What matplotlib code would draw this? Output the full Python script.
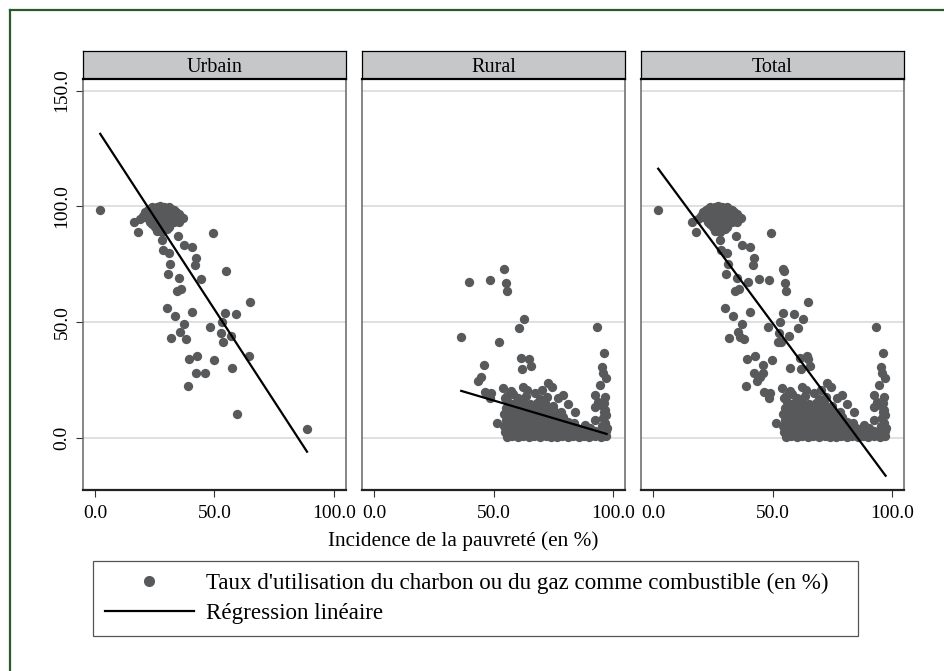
import numpy as np
import matplotlib.pyplot as plt
from matplotlib.lines import Line2D

plt.rcParams['font.family'] = ['Liberation Serif', 'DejaVu Serif']

# ---- data ----
panels = ['Urbain', 'Rural', 'Total']

urbain_x = [2.2, 16.5, 17.9, 49.4, 34.7, 28.1, 37.2, 40.7, 28.4, 30.9, 42.1, 41.7, 31.5, 55.0,
            30.5, 35.0, 44.2, 36.1, 34.3, 65.0, 30.3, 40.7, 54.4, 59.0, 33.4, 53.3, 37.2, 48.3,
            35.7, 52.7, 57.1, 32.0, 37.9, 53.5, 42.8, 39.3, 64.6, 49.6, 57.3, 42.2, 46.0, 39.0,
            59.3, 88.7,
            # dense cluster near 100 %
            20, 21, 22, 23, 24, 25, 26, 27, 28, 29, 30, 31, 32, 33, 34, 35, 36, 37,
            22, 24, 26, 28, 30, 32, 34, 23, 25, 27, 29, 31, 33, 25, 27, 29, 31, 26, 28, 24,
            19, 21, 35, 30]
urbain_y = [98.4, 93.3, 88.8, 88.6, 87.2, 85.6, 83.3, 82.3, 81.1, 80.0, 77.5, 74.6, 75.1, 72.0,
            70.7, 68.9, 68.7, 64.1, 63.4, 58.6, 56.2, 54.2, 53.7, 53.4, 52.7, 49.9, 49.0, 48.0,
            45.5, 45.1, 44.0, 43.2, 42.5, 41.5, 35.3, 33.9, 35.2, 33.7, 30.3, 28.1, 28.0, 22.5,
            10.1, 3.9,
            96, 97.5, 98.5, 99, 99.5, 98, 99.5, 100, 99, 99.7, 98.5, 99.5, 99, 98.5, 97.5, 96.5, 95.5, 95,
            95, 96, 96.5, 96.5, 96, 96, 95, 93, 94, 93.5, 94, 93.5, 93, 91, 91.5, 91.5, 91, 89.5, 89, 92.5,
            94.5, 95.5, 93, 90]

rural_x = [54.4, 39.9, 48.4, 55.4, 55.8, 62.8, 60.6, 93.4, 36.5, 52.2, 96.2, 61.7, 64.8, 65.6,
           45.9, 61.9, 95.5, 95.9, 44.6, 43.5, 96.9, 72.9, 74.5, 94.5, 54.0, 62.4, 46.6, 49.1,
           58.2, 67.3, 79.1, 77.0, 92.4, 48.4, 54.7, 81.2, 84.0, 88.2, 51.6, 92.4, 96.6, 92.4,
           96.6, 96.6, 93.8,
           55.5, 57.8, 60.1, 62.4, 64.9, 67.0, 69.3, 71.8, 74.0, 76.4, 78.7, 81.0, 83.2, 85.6,
           87.9, 90.1, 92.5, 94.8, 96.9,
           54.8, 57.1, 59.5, 61.8, 64.2, 66.5, 68.9, 71.2, 73.6, 75.9, 78.3, 80.6, 83.0, 85.3,
           87.7, 90.0, 92.4, 94.7, 97.0,
           54.3, 56.9, 59.4, 62.0, 64.5, 67.1, 69.6, 72.2, 74.8, 77.3, 79.9, 82.4, 85.0, 90.5,
           95.5, 97.3,
           55.1, 57.7, 60.3, 62.9, 65.5, 68.1, 70.7, 73.3, 75.9, 78.5, 81.1, 83.6, 95.9, 97.1,
           54.6, 57.3, 60.0, 62.7, 65.4, 68.1, 70.8, 73.5, 76.2, 79.0, 96.4,
           55.3, 58.1, 61.0, 63.9, 66.8, 69.7, 72.6, 75.4, 78.3, 94.9,
           56.2, 59.1, 62.3, 65.1, 68.4, 71.5, 74.9, 96.3,
           55.8, 60.4, 63.7, 69.6, 72.2,
           57.2, 64.1, 70.3]
rural_y = [72.9, 67.2, 68.3, 66.7, 63.4, 51.3, 47.4, 48.0, 43.4, 41.2, 36.7, 34.3, 33.9, 31.1,
           31.2, 29.5, 30.7, 27.8, 26.1, 24.5, 25.7, 23.5, 22.0, 22.7, 21.3, 22.0, 19.6, 19.5,
           18.9, 19.1, 18.5, 17.0, 18.5, 17.0, 17.0, 14.6, 11.2, 5.5, 6.5, 13.4, 12.0, 7.6,
           6.3, 17.8, 15.6,
           0.5, 0.7, 0.4, 0.8, 0.5, 0.6, 0.4, 0.7, 0.5, 0.3, 0.6, 0.5, 0.8, 0.4,
           0.6, 0.5, 0.7, 0.4, 0.6,
           2.6, 2.2, 2.8, 2.4, 3.0, 2.3, 2.7, 2.1, 2.9, 2.4, 2.6, 2.2, 2.8, 2.3,
           2.5, 2.1, 2.7, 2.4, 2.9,
           5.2, 4.8, 5.5, 4.6, 5.3, 4.9, 5.6, 4.7, 5.1, 4.5, 5.0, 4.6, 4.3, 4.4,
           4.9, 4.2,
           7.8, 7.2, 8.0, 7.4, 7.9, 7.3, 7.6, 7.1, 7.4, 6.9, 6.8, 6.5, 8.4, 9.8,
           10.3, 9.8, 10.6, 9.9, 10.4, 9.6, 10.1, 9.4, 9.2, 8.9, 10.9,
           12.8, 12.2, 13.0, 12.4, 12.1, 12.6, 11.8, 11.5, 11.2, 14.2,
           15.3, 14.8, 15.6, 14.7, 14.9, 15.2, 13.9, 15.1,
           17.9, 17.3, 18.1, 16.8, 17.4,
           20.1, 20.6, 20.8]

# Total = urban + rural districts
total_x = urbain_x + rural_x
total_y = urbain_y + rural_y

# fitted lines (intercept, slope)
reg_intercept = [134.8, 31.4, 119.3]
reg_slope = [-1.588, -0.306, -1.395]

xticks = [0, 50, 100]
yticks = [0, 50, 100, 150]

# ---- figure ----
W, H = 944, 671
fig = plt.figure(figsize=(W / 100, H / 100), dpi=100)
fig.patch.set_facecolor('white')

pt_col = '#58595b'
lefts = [83, 362, 641]
pw = 263
top, bot = 79, 490
htop = 51

series = [(urbain_x, urbain_y), (rural_x, rural_y), (total_x, total_y)]

for i, name in enumerate(panels):
    ax = fig.add_axes([lefts[i] / W, 1 - bot / H, pw / W, (bot - top) / H])
    xs, ys = series[i]
    ax.scatter(xs, ys, s=45, color=pt_col, linewidths=0, zorder=3)
    xr = np.array([min(xs), max(xs)])
    ax.plot(xr, reg_intercept[i] + reg_slope[i] * xr, color='black', lw=1.6, zorder=4)

    ax.set_xlim(-5, 105)
    ax.set_ylim(-22.6, 155)
    for yv in yticks:
        ax.axhline(yv, color='#dadada', lw=1.2, zorder=1)
    ax.set_xticks(xticks)
    ax.set_xticklabels(['%.1f' % v for v in xticks], fontsize=14)
    ax.tick_params(axis='x', length=5, width=0.8, color='#333333', pad=6)
    if i == 0:
        ax.set_yticks(yticks)
        ax.set_yticklabels(['%.1f' % v for v in yticks], fontsize=14, rotation=90, va='center')
        ax.tick_params(axis='y', length=5, width=0.8, color='#333333', pad=4)
    else:
        ax.set_yticks([])
    for s in ['left', 'right']:
        ax.spines[s].set_color('#666666')
        ax.spines[s].set_linewidth(1.1)
    ax.spines['bottom'].set_color('#222222')
    ax.spines['bottom'].set_linewidth(1.6)
    ax.spines['top'].set_visible(False)

    # strip header
    hx = fig.add_axes([lefts[i] / W, 1 - top / H, pw / W, (top - htop) / H])
    hx.set_facecolor('#c6c7c9')
    hx.set_xticks([])
    hx.set_yticks([])
    for s in hx.spines.values():
        s.set_color('black')
        s.set_linewidth(0.9)
    hx.spines['bottom'].set_linewidth(1.6)
    hx.text(0.5, 0.42, name, ha='center', va='center', fontsize=14.5, transform=hx.transAxes)

fig.text(463.5 / W, 1 - 541 / H, 'Incidence de la pauvreté (en %)', ha='center', va='center',
         fontsize=15.3)

# legend
handles = [Line2D([], [], marker='o', ls='none', color=pt_col, markersize=8, markeredgewidth=0),
           Line2D([], [], color='black', lw=1.6)]
labels = ["Taux d'utilisation du charbon ou du gaz comme combustible (en %)",
          'Régression linéaire']
leg = fig.legend(handles, labels, loc='upper left',
                 bbox_to_anchor=(93.3 / W, 1 - 634 / H, (857.7 - 93.3) / W, (634 - 561) / H),
                 mode='expand', fontsize=16.6, frameon=True, fancybox=False, framealpha=1,
                 edgecolor='#555555', borderpad=0.5, handlelength=3.85, handletextpad=0.55,
                 labelspacing=0.4, borderaxespad=0)
leg.get_frame().set_linewidth(0.9)

# outer graph region border (runs off the right and bottom)
gcol = '#2b5a2b'
fig.add_artist(Line2D([10 / W, 10 / W], [1 - 10.3 / H, -0.05], transform=fig.transFigure,
                      color=gcol, lw=1.6))
fig.add_artist(Line2D([10 / W, 1.05], [1 - 10.3 / H, 1 - 10.3 / H], transform=fig.transFigure,
                      color=gcol, lw=1.6))

fig.savefig('out.png', dpi=100)
